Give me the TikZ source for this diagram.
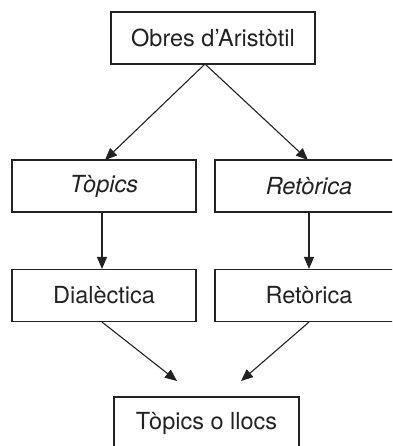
\documentclass[tikz,border=0pt]{standalone}
\usepackage{fontspec}
\setmainfont{TeX Gyre Heros}
\usetikzlibrary{arrows.meta}
\definecolor{ink}{HTML}{222222}
\tikzset{
  box/.style={draw=ink, line width=1.1pt, minimum height=52pt, inner sep=0pt, font=\fontsize{23.5}{28}\selectfont, text=ink},
  arr/.style={draw=ink, line width=1.1pt, -{Triangle[length=12pt,width=10pt]}}
}
\begin{document}
\begin{tikzpicture}[x=1pt,y=-1pt]
\useasboundingbox (0,0) rectangle (392,446);
\clip (0,0) rectangle (392,446);
\node[box, minimum width=204pt] (top) at (213,38) {Obres d’Aristòtil};
\node[box, minimum width=184pt] (topics) at (104,186) {\itshape Tòpics};
\node[box, minimum width=188pt] (retI) at (309,186) {\itshape Retòrica};
\node[box, minimum width=184pt] (dial) at (104,295.5) {Dialèctica};
\node[box, minimum width=188pt] (ret) at (309,295.5) {Retòrica};
\node[box, minimum width=185pt] (llocs) at (206.5,423) {Tòpics o llocs};
\coordinate (split) at (205,64);
\coordinate (tl) at (105,160);
\coordinate (tr) at (308,160);
\coordinate (bl) at (177,381);
\coordinate (br) at (241,381);
\draw[arr] (split) -- (tl);
\draw[arr] (split) -- (tr);
\draw[arr] ([xshift=-2pt]topics.south) -- ([xshift=-2pt]dial.north);
\draw[arr] (retI.south) -- (ret.north);
\draw[arr] ([xshift=-2pt]dial.south) -- (bl);
\draw[arr] (ret.south) -- (br);
\end{tikzpicture}
\end{document}
